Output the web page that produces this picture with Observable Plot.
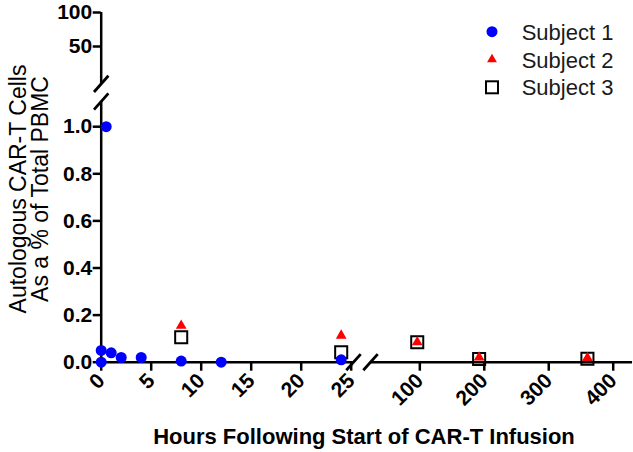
<!DOCTYPE html>
<html><head><meta charset="utf-8">
<script src="https://cdn.jsdelivr.net/npm/d3@7"></script>
<script src="https://cdn.jsdelivr.net/npm/@observablehq/plot@0.6"></script>
<style>
body{margin:0;background:#fff;}
#chart{position:relative;width:633px;height:452px;background:#fff;overflow:hidden;}
#chart > svg{position:absolute;left:0;top:0;max-width:none;}
</style></head><body><div id="chart"></div>
<script>
// ---- data ----
const subjects = ["Subject 1", "Subject 2", "Subject 3"];
const subject1Hours = [0, 0, 0.5, 1, 2, 4, 8, 12, 24];
const subject1Pct   = [0, 0.05, 1.0, 0.04, 0.02, 0.02, 0.005, 0, 0.01];
const subject2Hours = [8, 24, 96, 192, 360];
const subject2Pct   = [0.155, 0.113, 0.085, 0.02, 0.018];
const subject3Hours = [8, 24, 96, 192, 360];
const subject3Pct   = [0.106, 0.042, 0.085, 0.014, 0.015];
const yTicksLow  = [0, 0.2, 0.4, 0.6, 0.8, 1.0];
const yTicksHigh = [50, 100];
const xTicksEarly = [0, 5, 10, 15, 20, 25];
const xTicksLate  = [100, 200, 300, 400];
const xTitle = "Hours Following Start of CAR-T Infusion";
const yTitle = ["Autologous CAR-T Cells", "As a % of Total PBMC"];

// ---- build table ----
const rows = [];
[[subject1Hours, subject1Pct], [subject2Hours, subject2Pct], [subject3Hours, subject3Pct]]
  .forEach(([hs, ps], k) => hs.forEach((h, i) => rows.push({subject: subjects[k], hours: h, pct: ps[i]})));

const W = 633, H = 452;
const font = '"Liberation Sans", Arial, sans-serif';
// axis segments: data domain + pixel extent
const xEarly = {domain: [0, 25.23], left: 100.7, right: 353};
const xLate  = {domain: [23.5, 430], left: 370, right: 632.05};
const yLow   = {domain: [0, 1.107], bottom: 361.7, top: 101};
const yHigh  = {domain: [-5, 100], bottom: 83.4, top: 12};

const slash = {draw(ctx, size) { const r = Math.sqrt(size / Math.PI); ctx.moveTo(-0.8 * r, r * 0.9); ctx.lineTo(0.8 * r, -r * 0.9); }};

const styleFor = {
  "Subject 1": {symbol: "circle", fill: "#0000ff", r: 5.5},
  "Subject 2": {symbol: "triangle", fill: "#ff0000", r: 4},
  "Subject 3": {symbol: "square", fill: "none", stroke: "#000", strokeWidth: 2, r: 6.8}
};
function dots(data) {
  return ["Subject 3", "Subject 2", "Subject 1"].map(s =>
    Plot.dot(data.filter(d => d.subject === s), {x: "hours", y: "pct", ...styleFor[s]}));
}
const axisText = {fontSize: 21, fontWeight: "bold", strokeWidth: 2.5, label: null};
const breakMark = {x: "x", y: "y", symbol: slash, r: 9, stroke: "#000", strokeWidth: 2.8, fill: "none"};

function panel(xs, ys, xOpts, yOpts, marks) {
  return Plot.plot({
    width: W, height: H,
    marginLeft: xs.left, marginRight: W - xs.right,
    marginTop: ys.top, marginBottom: H - ys.bottom,
    x: {domain: xs.domain, ...xOpts}, y: {domain: ys.domain, ...yOpts},
    style: {background: "transparent", overflow: "visible", fontFamily: font, color: "#000"},
    marks
  });
}

const early = rows.filter(d => d.hours <= 25);
const late = rows.filter(d => d.hours > 25);

const pLowEarly = panel(xEarly, yLow, {}, {}, [
  Plot.ruleY([0], {strokeWidth: 2.5}),
  Plot.ruleX([0], {strokeWidth: 2.5}),
  Plot.axisY({ticks: yTicksLow, tickFormat: d3.format(".1f"), tickSize: 8, tickPadding: 1, ...axisText}),
  Plot.axisX({ticks: xTicksEarly, tickRotate: -45, tickSize: 9, tickPadding: 6, ...axisText}),
  Plot.dot([{x: xEarly.domain[0], y: yLow.domain[1]}, {x: xEarly.domain[1], y: yLow.domain[0]}], breakMark),
  ...dots(early)
]);
const pLowLate = panel(xLate, yLow, {}, {axis: null}, [
  Plot.ruleY([0], {strokeWidth: 2.5}),
  Plot.axisX({ticks: xTicksLate, tickRotate: -45, tickSize: 9, tickPadding: 6, ...axisText}),
  Plot.dot([{x: xLate.domain[0], y: yLow.domain[0]}], breakMark),
  ...dots(late)
]);
const pHigh = panel(xEarly, yHigh, {axis: null}, {}, [
  Plot.ruleX([0], {strokeWidth: 2.5}),
  Plot.axisY({ticks: yTicksHigh, tickSize: 8, tickPadding: 1, ...axisText}),
  Plot.dot([{x: xEarly.domain[0], y: yHigh.domain[0]}], breakMark)
]);

const chart = document.getElementById("chart");
chart.append(pHigh, pLowEarly, pLowLate);

// ---- titles + legend ----
const svg = d3.create("svg").attr("width", W).attr("height", H)
  .style("font-family", font).style("overflow", "visible");
svg.append("text").attr("x", 364).attr("y", 444).attr("text-anchor", "middle")
  .attr("font-size", 22).attr("font-weight", "bold").attr("fill", "#000").text(xTitle);
yTitle.forEach((t, i) => svg.append("text")
  .attr("transform", `translate(${i === 0 ? 26 : 48},189) rotate(-90)`)
  .attr("text-anchor", "middle").attr("font-size", 23).attr("fill", "#000").text(t));

const lg = svg.append("g");
subjects.forEach((s, i) => {
  const y = 31.7 + i * 27.8;
  const g = lg.append("g").attr("transform", `translate(492,${y})`);
  if (i === 0) g.append("circle").attr("r", 5.5).attr("fill", "#0000ff");
  if (i === 1) g.append("path").attr("d", d3.symbol(d3.symbolTriangle, 42)()).attr("fill", "#ff0000");
  if (i === 2) g.append("rect").attr("x", -6).attr("y", -6).attr("width", 12).attr("height", 12)
    .attr("fill", "none").attr("stroke", "#000").attr("stroke-width", 2);
  lg.append("text").attr("x", 521.7).attr("y", y + 8).attr("font-size", 22).attr("fill", "#1a1a1a").text(s);
});
chart.append(svg.node());
</script></body></html>
